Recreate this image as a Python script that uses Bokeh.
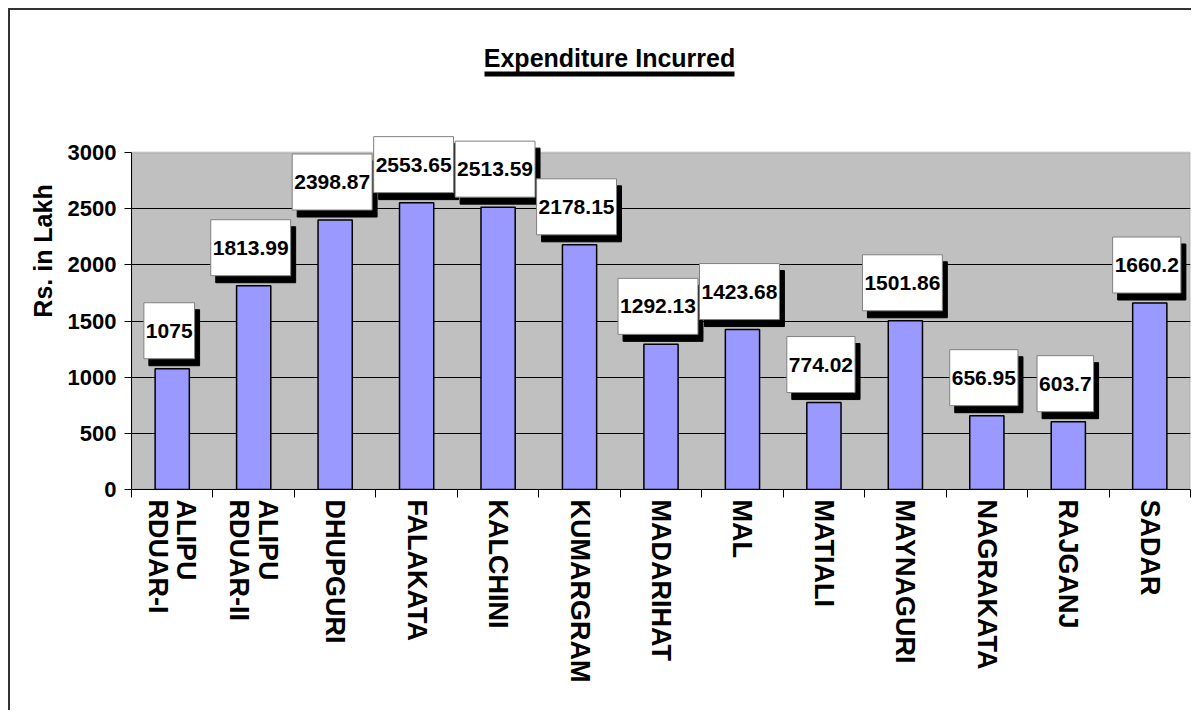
import numpy as np
from bokeh.plotting import figure
from bokeh.models import FixedTicker, Label, BoxAnnotation, Range1d
from bokeh.embed import file_html
from bokeh.resources import INLINE

# ---------------- data ----------------
categories = ["ALIPU\nRDUAR-I", "ALIPU\nRDUAR-II", "DHUPGURI", "FALAKATA", "KALCHINI",
              "KUMARGRAM", "MADARIHAT", "MAL", "MATIALI", "MAYNAGURI", "NAGRAKATA",
              "RAJGANJ", "SADAR"]
expenditure = [1075, 1813.99, 2398.87, 2553.65, 2513.59, 2178.15, 1292.13,
               1423.68, 774.02, 1501.86, 656.95, 603.7, 1660.2]
value_labels = ["1075", "1813.99", "2398.87", "2553.65", "2513.59", "2178.15", "1292.13",
                "1423.68", "774.02", "1501.86", "656.95", "603.7", "1660.2"]
y_ticks = [0, 500, 1000, 1500, 2000, 2500, 3000]
y_max = 3000
title_text = "Expenditure Incurred"
y_label = "Rs. in Lakh"

FONT = "Liberation Sans, Arial, sans-serif"

# ---------------- layout (canvas pixels) ----------------
W, H = 1183, 702
FRAME_LEFT, FRAME_RIGHT = 121, 3          # borders around frame
FRAME_TOP = 2                             # frame reaches almost to the top
AXIS_Y = 479                              # canvas y of the value 0 line
PLOT_TOP = 142                            # canvas y of the value y_max line
y_end = y_max * (AXIS_Y - FRAME_TOP) / (AXIS_Y - PLOT_TOP)

n = len(categories)
xs = np.arange(n) + 0.5

p = figure(width=W, height=H,
           x_range=Range1d(0, n), y_range=Range1d(0, y_end),
           output_backend="svg", toolbar_location=None,
           min_border_left=FRAME_LEFT, min_border_right=FRAME_RIGHT,
           min_border_top=FRAME_TOP, min_border_bottom=H - AXIS_Y,
           background_fill_color="white", border_fill_color="white")
p.styles = {"margin-left": "8px", "margin-top": "8px",
            "border-top": "2px solid #333333", "border-left": "2px solid #333333"}
p.outline_line_color = None
p.title.visible = False

# grey plotting area
plot_area = BoxAnnotation(left=0, right=n, bottom=0, top=y_max,
                          fill_color="#C0C0C0", fill_alpha=1.0,
                          line_color="#808080", line_width=2, level="image")
p.add_layout(plot_area)

p.vbar(x=xs, top=expenditure, width=0.42, fill_color="#9999FF",
       line_color="black", line_width=1.5)

# grid
p.xgrid.grid_line_color = None
p.ygrid.grid_line_color = "black"
p.ygrid.grid_line_width = 1
p.ygrid.ticker = FixedTicker(ticks=y_ticks[:-1])

# y axis
p.yaxis.ticker = FixedTicker(ticks=y_ticks)
p.yaxis.bounds = (0, y_max)
p.yaxis.axis_line_color = "black"
p.yaxis.major_tick_line_color = "black"
p.yaxis.major_tick_out = 7
p.yaxis.major_tick_in = 0
p.yaxis.minor_tick_line_color = None
p.yaxis.major_label_standoff = 8
p.yaxis.major_label_text_font = FONT
p.yaxis.major_label_text_font_style = "bold"
p.yaxis.major_label_text_font_size = "22px"
p.yaxis.major_label_text_color = "black"
p.yaxis.axis_label = y_label
p.yaxis.axis_label_text_font = FONT
p.yaxis.axis_label_text_font_style = "bold"
p.yaxis.axis_label_text_font_size = "25px"
p.yaxis.axis_label_standoff = 8
p.yaxis.axis_label_text_color = "black"

# x axis: labels at centres, ticks at category boundaries
p.xaxis.ticker = FixedTicker(ticks=list(xs), minor_ticks=list(range(n + 1)))
p.xaxis.major_label_overrides = {float(x): c for x, c in zip(xs, categories)}
p.xaxis.major_tick_line_color = None
p.xaxis.major_tick_out = 0
p.xaxis.major_tick_in = 0
p.xaxis.minor_tick_line_color = "black"
p.xaxis.minor_tick_out = 8
p.xaxis.minor_tick_in = 0
p.xaxis.axis_line_color = "black"
p.xaxis.major_label_orientation = "vertical"
p.xaxis.major_label_standoff = 2
p.xaxis.major_label_text_font = FONT
p.xaxis.major_label_text_font_style = "bold"
p.xaxis.major_label_text_font_size = "27px"
p.xaxis.major_label_text_line_height = 0.95
p.xaxis.major_label_text_color = "black"

# value labels with drop shadow
PAD = dict(left=2, right=2, top=21, bottom=21)
GAP = 10
for x, v, t in zip(xs, expenditure, value_labels):
    shadow = Label(x=x, y=v, x_offset=2, y_offset=GAP - 7, text=t,
                   text_align="center", text_baseline="bottom",
                   text_font=FONT, text_font_style="bold", text_font_size="21px",
                   text_color="black", background_fill_color="black",
                   border_line_color="black", padding=PAD)
    p.add_layout(shadow)
    box = Label(x=x, y=v, x_offset=-3, y_offset=GAP, text=t,
                text_align="center", text_baseline="bottom",
                text_font=FONT, text_font_style="bold", text_font_size="21px",
                text_color="black", background_fill_color="white",
                border_line_color="#808080", border_line_width=1, padding=PAD)
    p.add_layout(box)

# title with underline (screen units relative to the frame)
title = Label(x=478, y=432, x_units="screen", y_units="screen", text=title_text,
              text_align="center", text_baseline="alphabetic",
              text_font=FONT, text_font_style="bold", text_font_size="25px",
              text_color="black")
p.add_layout(title)
underline = BoxAnnotation(left=353, right=603, bottom=413, top=418,
                          left_units="screen", right_units="screen",
                          bottom_units="screen", top_units="screen",
                          fill_color="black", fill_alpha=1.0, line_color=None)
p.add_layout(underline)

open("out.html", "w").write(file_html(p, INLINE))
